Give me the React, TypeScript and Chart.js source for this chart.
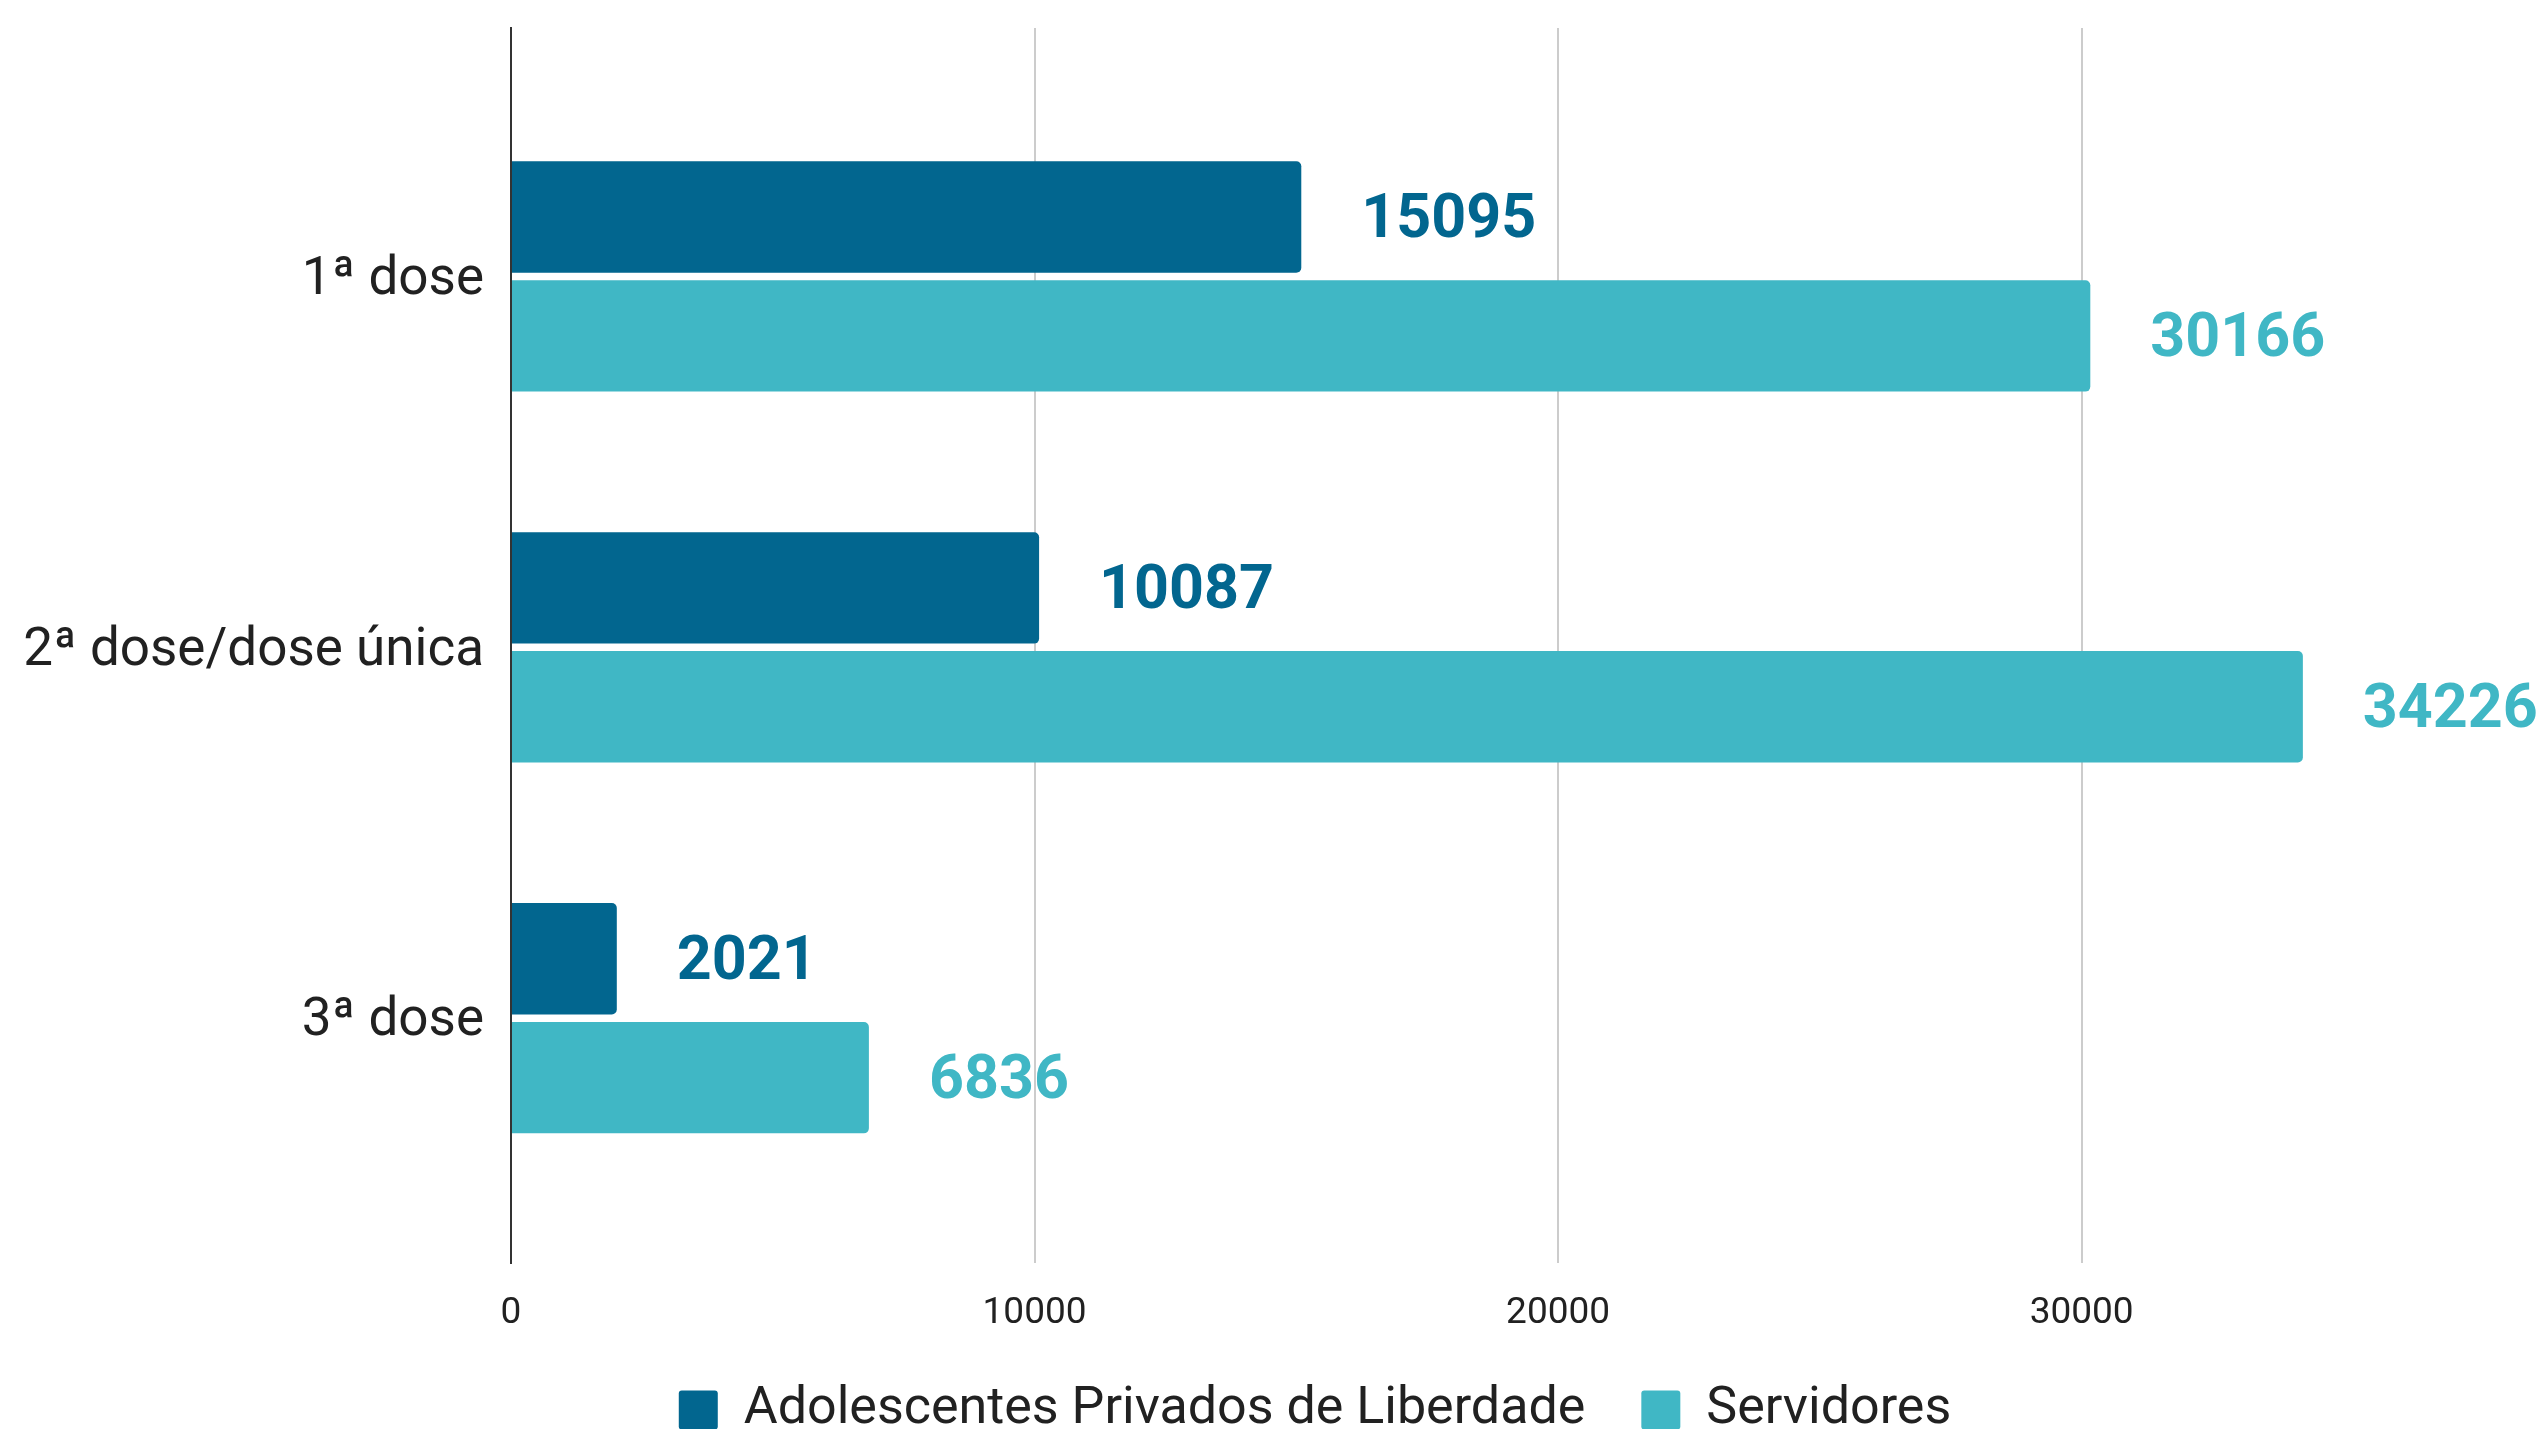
import React, { useEffect, useRef } from 'react';
import { Chart, registerables } from 'chart.js';

Chart.register(...registerables);

const categories = ['1ª dose', '2ª dose/dose única', '3ª dose'];
const adolescentes = [15095, 10087, 2021];
const servidores = [30166, 34226, 6836];
const xTickValues = [0, 10000, 20000, 30000];
const seriesNames = ['Adolescentes Privados de Liberdade', 'Servidores'];
const seriesColors = ['#02668f', '#40b7c5'];
const seriesValues = [adolescentes, servidores];

export default function App() {
  const ref = useRef<HTMLCanvasElement>(null);

  useEffect(() => {
    if (!ref.current) return;
    const labelPlugin = {
      id: 'valueLabels',
      afterDatasetsDraw(chart: any) {
        const ctx = chart.ctx;
        chart.data.datasets.forEach((ds: any, di: number) => {
          const meta = chart.getDatasetMeta(di);
          meta.data.forEach((bar: any, i: number) => {
            const v = seriesValues[di][i];
            ctx.save();
            ctx.font = 'bold 61px Roboto';
            ctx.fillStyle = seriesColors[di];
            ctx.textAlign = 'left';
            ctx.textBaseline = 'middle';
            ctx.fillText(String(v), bar.x + 60, bar.y + 5);
            ctx.restore();
          });
        });
      },
    };

    const chart = new Chart(ref.current, {
      type: 'bar',
      data: {
        datasets: seriesNames.map((name, di) => ({
          label: name,
          data: seriesValues[di].map((v, i) => ({ x: v, y: i })),
          backgroundColor: seriesColors[di],
          borderRadius: 5,
          borderSkipped: 'start',
          categoryPercentage: 0.641,
          barPercentage: 0.937,
        })),
      },
      options: {
        indexAxis: 'y',
        animation: false,
        responsive: false,
        devicePixelRatio: 1,
        layout: { padding: { left: 0, right: -84, top: 28, bottom: -17 } },
        plugins: {
          tooltip: { enabled: false },
          legend: {
            position: 'bottom',
            labels: {
              font: { family: 'Roboto', size: 52 },
              color: '#212121',
              boxWidth: 39,
              boxHeight: 39,
              padding: 56,
              useBorderRadius: true,
              borderRadius: 3,
            },
          },
        },
        scales: {
          x: {
            type: 'linear',
            min: 0,
            max: 38870,
            afterBuildTicks: (s: any) => {
              s.ticks = xTickValues.map((v) => ({ value: v }));
            },
            afterFit: (s: any) => {
              s.height = 65;
            },
            grid: { color: '#cccccc', lineWidth: 2, drawTicks: false },
            border: { display: false },
            ticks: {
              padding: 29,
              font: { family: 'Roboto', size: 37 },
              color: '#212121',
              callback: (v: any) => String(v),
            },
          },
          y: {
            type: 'linear',
            min: -0.67,
            max: 2.66,
            reverse: true,
            offset: false,
            afterBuildTicks: (s: any) => {
              s.ticks = categories.map((_, i) => ({ value: i }));
            },
            afterFit: (s: any) => {
              s.width = 511;
              s.paddingTop = 0;
              s.paddingBottom = 0;
            },
            grid: { display: false, drawTicks: false, offset: false },
            border: { display: true, color: '#333333', width: 2 },
            ticks: {
              padding: 27,
              labelOffset: 4,
              font: { family: 'Roboto', size: 53 },
              color: '#212121',
              callback: (v: any) => categories[v] ?? '',
            },
          },
        },
      },
      plugins: [labelPlugin],
    } as any);

    return () => chart.destroy();
  }, []);

  return (
    <div style={{ position: 'fixed', left: 0, top: 0, width: 2546, height: 1429, background: '#ffffff' }}>
      <canvas ref={ref} width={2546} height={1429} style={{ display: 'block' }} />
    </div>
  );
}
